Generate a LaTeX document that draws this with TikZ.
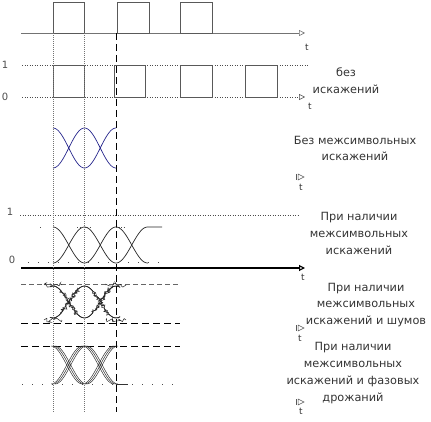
\documentclass[tikz,border=0pt]{standalone}
\usepackage{fontspec}
\setmainfont{DejaVu Sans}
\usetikzlibrary{arrows.meta,decorations.pathmorphing}
\begin{document}
\begin{tikzpicture}[x=1pt,y=-1pt,
  lbl/.style={font=\fontsize{11.3}{16.8}\selectfont, align=center, inner sep=0pt, text=black!80},
  tl/.style={font=\fontsize{9}{9}\selectfont, inner sep=0pt, text=black!80},
  lev/.style={font=\fontsize{10}{10}\selectfont, inner sep=0pt, text=black!70},
  pulse/.style={draw=black!65, line width=0.9pt},
  axisline/.style={draw=black!55, line width=0.6pt},
  dotline/.style={draw=black!70, line width=0.5pt, dash pattern=on 1pt off 1.5pt},
  sparse/.style={draw=black!70, line width=0.7pt, dash pattern=on 1pt off 9pt},
  grp/.style={draw=black!60, line width=0.5pt, dash pattern=on 5pt off 3pt},
  dsh/.style={draw=black, line width=0.8pt, dash pattern=on 7pt off 4pt},
  vdot/.style={draw=black!55, line width=0.6pt, dash pattern=on 1pt off 1pt},
  vdash/.style={draw=black, line width=0.8pt, dash pattern=on 7pt off 4pt},
  arr/.style={-{Triangle[open,length=6pt,width=6pt]}},
  tri/.style={draw=black!65, line width=0.5pt},
  eyeb/.style={draw={rgb,1:red,0.15;green,0.15;blue,0.55}, line width=0.7pt},
  eyek/.style={draw=black!85, line width=0.7pt},
  noise/.style={decorate, decoration={random steps,segment length=1.6pt,amplitude=2.4pt}, draw=black!85, line width=0.5pt},
  jit/.style={draw=black!80, line width=0.5pt}
]
\useasboundingbox (0,0) rectangle (431,422);
\pgfmathsetseed{11}

% ---------- row 1 ----------
\draw[axisline,arr] (21,33) -- (305,33);
\draw[pulse] (53,33) -- (53,2) -- (84,2) -- (84,33) -- cycle;
\draw[pulse] (117,33) -- (117,2) -- (149,2) -- (149,33) -- cycle;
\draw[pulse] (180,33) -- (180,2) -- (212,2) -- (212,33) -- cycle;
\node[tl] (t1) at (307,47) {t};

% ---------- row 2 ----------
\draw[dotline] (22,65) -- (309,65);
\draw[dotline,arr] (22,97) -- (305,97);
\draw[pulse] (53,65) rectangle (84,97);
\draw[pulse] (114,65) rectangle (145,97);
\draw[pulse] (180,65) rectangle (212,97);
\draw[pulse] (245,65) rectangle (277,97);
\node[lev] (one1) at (5,65) {1};
\node[lev] (zero1) at (5,97) {0};
\node[tl] (t2) at (310,106) {t};
\node[lbl] (l2) at (346,81) {без\\искажений};

% ---------- row 3 (blue eye) ----------
\draw[eyeb] plot[domain=53:116,samples=60] (\x,{148-20*cos((\x-53)*5.7143)});
\draw[eyeb] plot[domain=53:116,samples=60] (\x,{148+20*cos((\x-53)*5.7143)});
\draw[tri] (296,174) -- (296,180);
\draw[tri] (298,174) -- (304,177) -- (298,180) -- cycle;
\node[tl] (t3) at (301,187) {t};
\node[lbl] (l3) at (355,148.5) {Без межсимвольных\\искажений};

% ---------- row 4 ----------
\draw[dotline] (20,215) -- (300,215);
\draw[sparse] (28,262) -- (168,262);
\draw[sparse] (40,227) -- (45,227);
\draw[draw=black, line width=1.1pt, arr] (21,268) -- (305,268);
\draw[eyek] plot[domain=53:148,samples=90] (\x,{245-18*cos((\x-53)*5.7143)});
\draw[eyek] plot[domain=53:148,samples=90] (\x,{245+18*cos((\x-53)*5.7143)}) -- (162,227);
\draw[dotline] (77,227) -- (90,227);
\draw[dotline] (116,227) -- (126,227);
\node[lev] (one2) at (10,212) {1};
\node[lev] (zero2) at (12,260) {0};
\node[tl] (t4) at (303,277) {t};
\node[lbl] (l4) at (359,233.5) {При наличии\\межсимвольных\\искажений};

% ---------- row 5 (noise) ----------
\draw[grp] (21,284) -- (180,284);
\draw[dsh] (21,323) -- (180,323);
\foreach \k in {1,2,3} {
  \draw[noise] plot[domain=50:120,samples=45] (\x,{302-16*cos((\x-53)*5.7143)});
  \draw[noise] plot[domain=50:120,samples=45] (\x,{302+16*cos((\x-53)*5.7143)});
}
\draw[noise] (44,285) -- (62,285);
\draw[noise] (106,285) -- (126,285);
\draw[noise] (44,320) -- (62,320);
\draw[noise] (106,320) -- (126,320);
\draw[tri] (296,325) -- (296,331);
\draw[tri] (298,325) -- (304,328) -- (298,331) -- cycle;
\node[tl] (t5) at (300,338) {t};
\node[lbl] (l5) at (366,305) {При наличии\\межсимвольных\\искажений и шумов};

% ---------- row 6 (jitter) ----------
\draw[dsh] (21,346) -- (180,346);
\draw[sparse] (22,384) -- (180,384);
\foreach \s in {-2,0,2} {
  \draw[jit] plot[domain=53:116,samples=60] ({\x+\s},{365-19*cos((\x-53)*5.7143)});
  \draw[jit] plot[domain=53:116,samples=60] ({\x+\s},{365+19*cos((\x-53)*5.7143)});
}
\draw[jit] (116,384) -- (128,384);
\draw[tri] (296,399) -- (296,405);
\draw[tri] (298,399) -- (304,402) -- (298,405) -- cycle;
\node[tl] (t6) at (301,411) {t};
\node[lbl] (l6) at (353,373) {При наличии\\межсимвольных\\искажений и фазовых\\дрожаний};

% ---------- vertical reference lines ----------
\draw[vdot] (53,33) -- (53,412);
\draw[vdot] (84,33) -- (84,412);
\draw[vdash] (116,33) -- (116,412);
\end{tikzpicture}
\end{document}
